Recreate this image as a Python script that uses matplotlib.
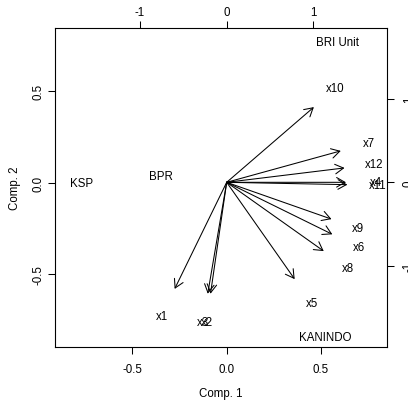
import numpy as np
import matplotlib.pyplot as plt

plt.rcParams['font.family'] = ['Liberation Sans', 'DejaVu Sans']
plt.rcParams['font.size'] = 8.3
plt.rcParams['axes.unicode_minus'] = False

# observation scores (Comp. 1 / Comp. 2)
obs_names = ['KSP', 'BPR', 'BRI Unit', 'KANINDO']
obs_x = [-0.770, -0.350, 0.587, 0.522]
obs_y = [-0.002, 0.038, 0.768, -0.846]

# variable loadings (label positions, arrows drawn to 0.8 of these)
var_names = ['x1', 'x2', 'x3', 'x4', 'x5', 'x6', 'x7', 'x8', 'x9', 'x10', 'x11', 'x12']
var_x = [-0.750, -0.233, -0.273, 1.720, 0.980, 1.523, 1.645, 1.399, 1.511, 1.257, 1.740, 1.699]
var_y = [-1.593, -1.665, -1.665, 0.000, -1.447, -0.777, 0.470, -1.028, -0.550, 1.124, -0.035, 0.215]

score_ticks = [-0.5, 0.0, 0.5]
load_ticks = [-1, 0, 1]

fig = plt.figure(figsize=(4.08, 4.02), dpi=100)
rect = [55/408, 1 - 348/402, 332/408, 319/402]

ax = fig.add_axes(rect)
ax.set_xlim(-0.911, 0.851)
ax.set_ylim(-0.899, 0.847)
for s in ax.spines.values():
    s.set_linewidth(0.8)
for i, name in enumerate(obs_names):
    ax.text(obs_x[i], obs_y[i], name, ha='center', va='center')
ax.set_xticks(score_ticks)
ax.set_yticks(score_ticks)
ax.set_xticklabels(['-0.5', '0.0', '0.5'])
ax.set_yticklabels(['-0.5', '0.0', '0.5'], rotation=90, va='center')
ax.tick_params(axis='x', length=5, width=0.75, pad=6.5)
ax.tick_params(axis='y', length=5, width=0.75, pad=2.2)
ax.set_xlabel('Comp. 1')
ax.set_ylabel('Comp. 2')
ax.xaxis.set_label_coords(0.5, -0.124)
ax.yaxis.set_label_coords(-0.101, 0.5)

ax2 = fig.add_axes(rect, frameon=False)
ax2.set_xlim(-1.980, 1.849)
ax2.set_ylim(-1.969, 1.845)
ax2.patch.set_alpha(0)
for i, name in enumerate(var_names):
    ax2.annotate('', xy=(0.8*var_x[i], 0.8*var_y[i]), xytext=(0, 0),
                 arrowprops=dict(arrowstyle='->,head_length=0.4,head_width=0.23',
                                 lw=0.75, color='black', shrinkA=0, shrinkB=0,
                                 mutation_scale=15))
    ax2.text(var_x[i], var_y[i], name, ha='center', va='center')
ax2.xaxis.tick_top()
ax2.yaxis.tick_right()
ax2.set_xticks(load_ticks)
ax2.set_yticks(load_ticks)
ax2.set_xticklabels(['-1', '0', '1'])
ax2.set_yticklabels(['-1', '0', '1'], rotation=90, va='center')
ax2.tick_params(axis='x', length=5, width=0.75, pad=2.2)
ax2.tick_params(axis='y', length=5, width=0.75, pad=6.5)

fig.savefig('out.png', dpi=100)
